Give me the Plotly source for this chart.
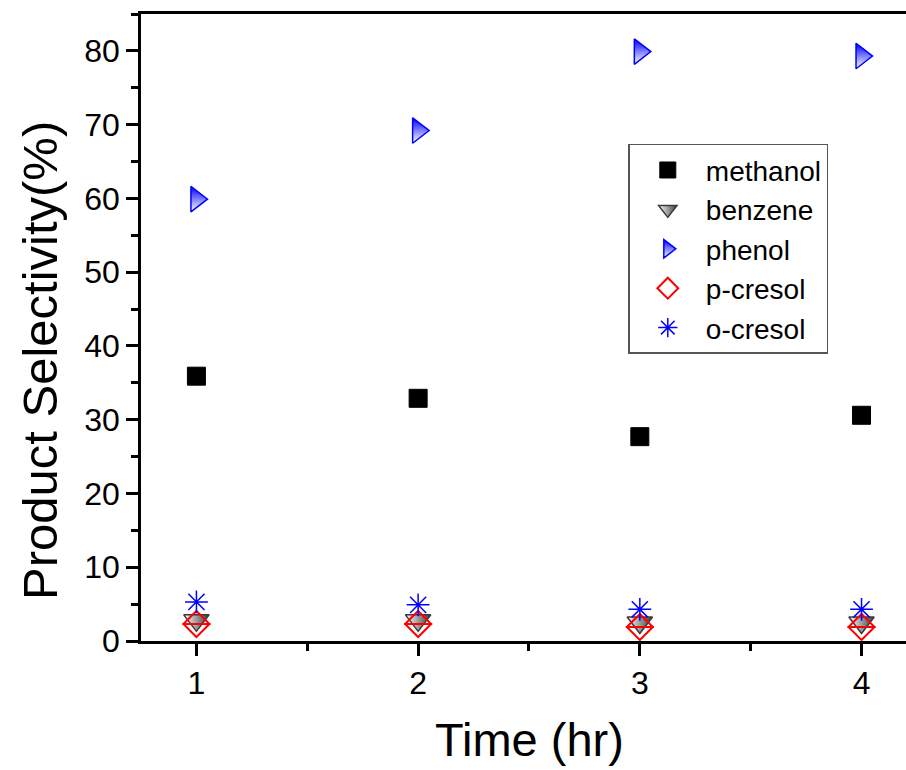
import plotly.graph_objects as go

time_hr = [1, 2, 3, 4]
methanol = [35.9, 32.9, 27.7, 30.6]
benzene = [2.8, 2.8, 2.5, 2.5]
phenol = [59.9, 69.2, 79.9, 79.3]
p_cresol = [2.3, 2.3, 1.9, 1.9]
o_cresol = [5.3, 4.9, 4.3, 4.3]

FONT = "Arial, 'Liberation Sans', sans-serif"

fig = go.Figure()
fig.add_trace(go.Scatter(x=time_hr, y=methanol, mode="markers", name="methanol",
                         marker=dict(symbol="square", size=18, color="black",
                                     line=dict(color="black", width=1))))
fig.add_trace(go.Scatter(x=time_hr, y=benzene, mode="markers", name="benzene",
                         marker=dict(symbol="triangle-down", size=22, color="white",
                                     gradient=dict(type="horizontal", color="#3a3a3a"),
                                     line=dict(color="#3a3a3a", width=1.5))))
fig.add_trace(go.Scatter(x=time_hr, y=phenol, mode="markers", name="phenol",
                         marker=dict(symbol="triangle-right", size=22, color="#0000ff",
                                     gradient=dict(type="vertical", color="white"),
                                     line=dict(color="#0000ff", width=1.5))))
fig.add_trace(go.Scatter(x=time_hr, y=p_cresol, mode="markers", name="p-cresol",
                         marker=dict(symbol="diamond-open", size=20, color="#ff0000",
                                     line=dict(color="#ff0000", width=2))))
fig.add_trace(go.Scatter(x=time_hr, y=p_cresol, mode="markers", name="p-cresol",
                         showlegend=False, hoverinfo="skip",
                         marker=dict(symbol="line-ew", size=20, color="#ff0000",
                                     line=dict(color="#ff0000", width=2))))
fig.add_trace(go.Scatter(x=time_hr, y=o_cresol, mode="markers", name="o-cresol",
                         marker=dict(symbol="asterisk-open", size=19, color="#0000ff",
                                     line=dict(color="#0000ff", width=1.5))))

fig.update_layout(
    width=906, height=770,
    margin=dict(l=141, r=0, t=14, b=129),
    paper_bgcolor="white", plot_bgcolor="white",
    font=dict(family=FONT, color="black"),
    showlegend=True,
    legend=dict(x=0.637, y=0.793, xanchor="left", yanchor="top",
                bgcolor="white", bordercolor="#555555", borderwidth=1.5,
                font=dict(size=28, family=FONT, color="black"),
                tracegroupgap=0, itemwidth=66),
    xaxis=dict(
        range=[0.75, 0.75 + 765 / 221.7],
        tickmode="array", tickvals=time_hr, ticktext=[str(t) for t in time_hr],
        ticks="outside", ticklen=12, tickwidth=2.5, tickcolor="black",
        minor=dict(dtick=0.5, tick0=0.5, ticks="outside", ticklen=7, tickwidth=2.5, tickcolor="black"),
        showline=True, linecolor="black", linewidth=2.5, mirror=True,
        showgrid=False, zeroline=False,
        tickfont=dict(size=32, family=FONT),
    ),
    yaxis=dict(
        range=[0, 85],
        tickmode="linear", tick0=0, dtick=10,
        ticks="outside", ticklen=12, tickwidth=2.5, tickcolor="black",
        minor=dict(dtick=5, tick0=5, ticks="outside", ticklen=7, tickwidth=2.5, tickcolor="black"),
        showline=True, linecolor="black", linewidth=2.5, mirror=False,
        showgrid=False, zeroline=False,
        tickfont=dict(size=32, family=FONT),
    ),
    annotations=[
        dict(text="Product Selectivity(%)", textangle=-90,
             xref="paper", yref="paper", x=-0.132, y=0.4466,
             xanchor="center", yanchor="middle", showarrow=False,
             font=dict(size=49, family=FONT, color="black")),
        dict(text="Time (hr)",
             xref="paper", yref="paper", x=(529 - 141) / 765, y=-(739 - 641) / 627,
             xanchor="center", yanchor="middle", showarrow=False,
             font=dict(size=47, family=FONT, color="black")),
    ],
)

fig.write_html("out.html")
